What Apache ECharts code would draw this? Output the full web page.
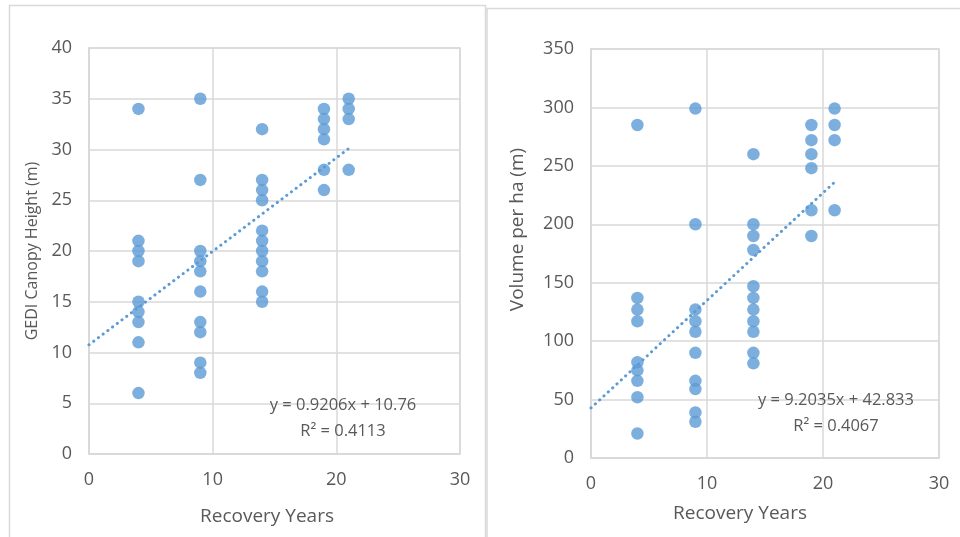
<!DOCTYPE html>
<html>
<head>
<meta charset="utf-8">
<script src="https://cdn.jsdelivr.net/npm/echarts@6/dist/echarts.min.js"></script>
<style>
html,body{margin:0;padding:0;background:#fff;}
#c{width:960px;height:537px;}
</style>
</head>
<body>
<div id="c"></div>
<script>
// Recovery years (x groups)
const years = [4, 9, 14, 19, 21];
// GEDI canopy height (m) per recovery-year group
const height4  = [34, 21, 20, 19, 15, 14, 13, 11, 6];
const height9  = [35, 27, 20, 19, 18, 16, 13, 12, 9, 8];
const height14 = [32, 27, 26, 25, 22, 21, 20, 19, 18, 16, 15];
const height19 = [34, 33, 32, 31, 28, 26];
const height21 = [35, 34, 33, 28];
// Volume per ha per recovery-year group
const volume4  = [285, 137, 127, 117, 82, 75, 66, 52, 21];
const volume9  = [299, 200, 127, 117, 108, 90, 66, 59, 39, 31];
const volume14 = [260, 200, 190, 178, 147, 137, 127, 117, 108, 90, 81];
const volume19 = [285, 272, 260, 248, 212, 190];
const volume21 = [299, 285, 272, 212];
// Trendline coefficients [slope, intercept, R²] as printed
const heightTrend = [0.9206, 10.76, 0.4113];
const volumeTrend = [9.2035, 42.833, 0.4067];
const trendRange = [0, 21];
// Axis tick settings [min, max, interval]
const xTicks = [0, 30, 10];
const heightTicks = [0, 40, 5];
const volumeTicks = [0, 350, 50];

const heightGroups = [height4, height9, height14, height19, height21];
const volumeGroups = [volume4, volume9, volume14, volume19, volume21];
function pairs(groups){
  const out = [];
  groups.forEach((g, i) => g.forEach(v => out.push([years[i], v])));
  return out;
}
function trend(c){
  return trendRange.map(x => [x, c[0] * x + c[1]]);
}

const BLUE = '#5B9BD5';
const GRID = '#d9d9d9';
const TXT = '#595959';
const FONT = 'Open Sans';

function xAxis(idx, gap, pad){
  return {
    type: 'value', gridIndex: idx, min: xTicks[0], max: xTicks[1], interval: xTicks[2],
    name: 'Recovery Years', nameLocation: 'middle', nameGap: gap,
    nameTextStyle: {color: TXT, fontSize: 19, fontFamily: FONT, padding: pad},
    axisLine: {show: true, lineStyle: {color: GRID, width: 1.5}},
    axisTick: {show: false},
    axisLabel: {color: TXT, fontSize: 18, fontFamily: FONT, margin: 17},
    splitLine: {show: true, lineStyle: {color: GRID, width: 1.5}}
  };
}
function yAxis(idx, t, name, size, gap, pad){
  return {
    type: 'value', gridIndex: idx, min: t[0], max: t[1], interval: t[2],
    name: name, nameLocation: 'middle', nameGap: gap,
    nameTextStyle: {color: TXT, fontSize: size, fontFamily: FONT, padding: pad},
    axisLine: {show: true, lineStyle: {color: GRID, width: 1.5}},
    axisTick: {show: false},
    axisLabel: {color: TXT, fontSize: 18, fontFamily: FONT, margin: 17},
    splitLine: {show: true, lineStyle: {color: GRID, width: 1.5}}
  };
}
function trendStyle(){
  return {color: BLUE, width: 3, type: [0.1, 5.8], cap: 'round'};
}

const chart = echarts.init(document.getElementById('c'), null, {renderer: 'canvas'});
chart.setOption({
  animation: false,
  backgroundColor: '#fff',
  grid: [
    {left: 89, top: 48, width: 371, height: 406, show: true, borderColor: GRID, borderWidth: 1.5},
    {left: 591, top: 49, width: 348, height: 409, show: true, borderColor: GRID, borderWidth: 1.5}
  ],
  xAxis: [xAxis(0, 53, [0, 15, 0, 0]), xAxis(1, 46, [0, 50, 0, 0])],
  yAxis: [
    yAxis(0, heightTicks, 'GEDI Canopy Height (m)', 16, 49, [0, 0, 0, 0]),
    yAxis(1, volumeTicks, 'Volume per ha (m)', 19, 64, [0, 0, 0, 48])
  ],
  series: [
    {type: 'scatter', xAxisIndex: 0, yAxisIndex: 0, data: pairs(heightGroups),
     symbolSize: 12.5, itemStyle: {color: BLUE}, z: 3},
    {type: 'line', xAxisIndex: 0, yAxisIndex: 0, data: trend(heightTrend),
     symbol: 'none', lineStyle: trendStyle(), z: 2},
    {type: 'scatter', xAxisIndex: 1, yAxisIndex: 1, data: pairs(volumeGroups),
     symbolSize: 12.5, itemStyle: {color: BLUE}, z: 3},
    {type: 'line', xAxisIndex: 1, yAxisIndex: 1, data: trend(volumeTrend),
     symbol: 'none', lineStyle: trendStyle(), z: 2}
  ],
  graphic: [
    {type: 'rect', shape: {x: 9.5, y: 5.5, width: 476, height: 540}, silent: true,
     style: {fill: null, stroke: GRID, lineWidth: 1.5}, z: -1},
    {type: 'rect', shape: {x: 487, y: 8.5, width: 480, height: 540}, silent: true,
     style: {fill: null, stroke: GRID, lineWidth: 1.5}, z: -1},
    {type: 'text', x: 343, y: 418, silent: true, z: 10,
     style: {text: 'y = ' + heightTrend[0] + 'x + ' + heightTrend[1] + '\nR² = ' + heightTrend[2],
             align: 'center', verticalAlign: 'middle', lineHeight: 26,
             fill: TXT, font: '16.5px ' + FONT}},
    {type: 'text', x: 836, y: 413, silent: true, z: 10,
     style: {text: 'y = ' + volumeTrend[0] + 'x + ' + volumeTrend[1] + '\nR² = ' + volumeTrend[2],
             align: 'center', verticalAlign: 'middle', lineHeight: 26,
             fill: TXT, font: '16.5px ' + FONT}}
  ]
});
</script>
</body>
</html>
